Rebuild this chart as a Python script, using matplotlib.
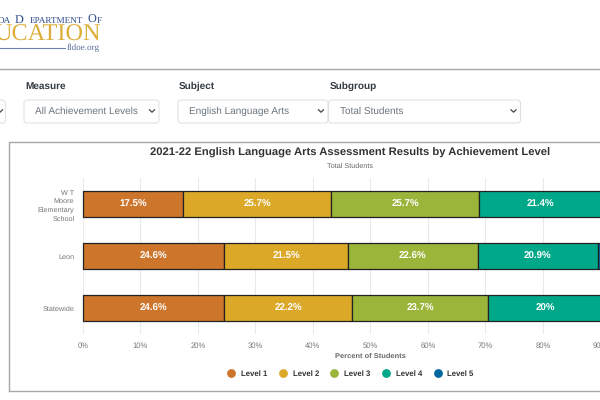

# Imports
import matplotlib
matplotlib.use("Agg")
import matplotlib.pyplot as plt
from matplotlib.lines import Line2D
from matplotlib.patches import FancyBboxPatch
import numpy as np

# Chart data
schoolNames = ["W T\nMoore\nElementary\nSchool", "Leon", "Statewide"]
levelNames = ["Level 1", "Level 2", "Level 3", "Level 4", "Level 5"]
level1Values = [17.5, 24.6, 24.6]
level2Values = [25.7, 21.5, 22.2]
level3Values = [25.7, 22.6, 23.7]
level4Values = [21.4, 20.9, 20.0]
level5Values = [9.7, 10.4, 9.5]
levelLabels = [
    ["17.5%", "24.6%", "24.6%"],
    ["25.7%", "21.5%", "22.2%"],
    ["25.7%", "22.6%", "23.7%"],
    ["21.4%", "20.9%", "20%"],
    ["9.7%", "10.4%", "9.5%"],
]
levelColors = ["#CC752B", "#DBA827", "#9BB53B", "#00A88A", "#00679E"]
xTicks = [0, 10, 20, 30, 40, 50, 60, 70, 80, 90, 100]

# Page controls: (label, selected text, left, width)
dropdownLabels = ["Measure", "Subject", "Subgroup"]
dropdownValues = ["All Achievement Levels", "English Language Arts", "Total Students"]
dropdownLefts = [24, 178, 328.5]
dropdownWidths = [135, 150, 192]

plt.rcParams["font.family"] = ["Liberation Sans", "DejaVu Sans"]
plt.rcParams["text.hinting"] = "no_hinting"

fig = plt.figure(figsize=(6, 4), dpi=100)

################################################################################
# Page furniture, drawn in pixel coordinates
################################################################################
page = fig.add_axes([0, 0, 1, 1])
page.set_xlim(0, 600)
page.set_ylim(400, 0)
page.axis("off")

# Logo, small caps built from two sizes on one baseline
logoBaseline = 23
logoBlue = "#2F4A8C"
page.text(11, logoBaseline, "DA", family="Liberation Serif", fontsize=6.6,
          color=logoBlue, ha="right", va="baseline")
page.text(15, logoBaseline, "D", family="Liberation Serif", fontsize=8.8,
          color=logoBlue, ha="left", va="baseline")
page.text(83, logoBaseline, "EPARTMENT", family="Liberation Serif", fontsize=6.6,
          color=logoBlue, ha="right", va="baseline")
page.text(88, logoBaseline, "O", family="Liberation Serif", fontsize=8.8,
          color=logoBlue, ha="left", va="baseline")
page.text(102, logoBaseline, "F", family="Liberation Serif", fontsize=6.6,
          color=logoBlue, ha="right", va="baseline")
page.text(101, 35, "UCATION", family="Liberation Serif", fontsize=17.5,
          color="#DDAE3A", ha="right", va="center")
page.plot([0, 65], [48, 48], color="#6F82B5", lw=0.8)
page.text(99.5, 48, "fldoe.org", family="Liberation Serif", fontsize=6.6,
          color="#5A6C9C", ha="right", va="center")

# Separator lines and the chart frame
page.plot([0, 600], [68.5, 68.5], color="#A8A8A8", lw=1)
page.plot([8.5, 8.5, 600], [390.5, 141.5, 141.5], color="#A8A8A8", lw=1)
page.plot([8.5, 600], [390.5, 390.5], color="#A8A8A8", lw=1)


def drawChevron(xCenter, yCenter):
    page.plot([xCenter - 2.5, xCenter, xCenter + 2.5],
              [yCenter - 1.2, yCenter + 1.2, yCenter - 1.2],
              color="#444444", lw=0.9)


# Left over dropdown cut off by the page edge
page.add_patch(FancyBboxPatch((-30, 100), 35.5, 23, boxstyle="round,pad=0,rounding_size=3",
                              fc="white", ec="#DEE2E6", lw=0.8))
drawChevron(0, 111)

for label, value, left, width in zip(dropdownLabels, dropdownValues, dropdownLefts, dropdownWidths):
    page.text(left + 1, 86.5, label, fontsize=7.2, fontweight="bold", color="#333A40",
              ha="left", va="center")
    page.add_patch(FancyBboxPatch((left, 100), width, 23, boxstyle="round,pad=0,rounding_size=3",
                                  fc="white", ec="#DEE2E6", lw=0.8))
    page.text(left + 11, 111, value, fontsize=7.2, color="#6C757D", ha="left", va="center")
    drawChevron(left + width - 7, 111)

################################################################################
# Stacked bar chart (the 100% end runs past the cropped right edge)
################################################################################
pxPerPercent = 5.75
axLeft = 82.8 / 600
axWidth = 100 * pxPerPercent / 600
axBottom = 1 - 334 / 400
axHeight = 156 / 400
axe = fig.add_axes([axLeft, axBottom, axWidth, axHeight], facecolor="none")

allValues = [level1Values, level2Values, level3Values, level4Values, level5Values]
yPositions = np.arange(len(schoolNames))
lefts = np.zeros(len(schoolNames))
for values, labels, color in zip(allValues, levelLabels, levelColors):
    bars = axe.barh(yPositions, values, left=lefts, height=0.5, color=color,
                    edgecolor="#222222", linewidth=0.9, zorder=3, clip_on=False)
    axe.bar_label(bars, labels=labels, label_type="center", color="white",
                  fontsize=7, fontweight="bold", zorder=4)
    lefts = lefts + np.array(values)

axe.set_xlim(0, 100)
axe.set_ylim(2.5, -0.5)
axe.set_xticks(xTicks)
axe.set_xticklabels([f"{tick}%" for tick in xTicks], fontsize=5.5, color="#777777")
axe.set_yticks(yPositions)
axe.set_yticklabels(schoolNames, fontsize=5.2, color="#777777", linespacing=1.43)
axe.tick_params(axis="x", length=0, pad=6)
axe.tick_params(axis="y", length=0, pad=6)
axe.grid(True, axis="x", color="#E6E9F0", lw=0.8, zorder=0)
for side in axe.spines:
    axe.spines[side].set_visible(False)

axe.set_xlabel("Percent of Students", fontsize=5.4, fontweight="bold", color="#666666", labelpad=2)

# Title and subtitle
page.text(350, 153, "2021-22 English Language Arts Assessment Results by Achievement Level",
          fontsize=8.1, fontweight="bold", color="#333333", ha="center", va="center")
page.text(350, 166.5, "Total Students", fontsize=5.2, color="#666666", ha="center", va="center")

# Legend
legendHandles = [Line2D([], [], linestyle="none", marker="o", markersize=5.3, color=color)
                 for color in levelColors]
legend = page.legend(legendHandles, levelNames, ncol=5, frameon=False, loc="center",
                     bbox_to_anchor=(348.5 / 600, 1 - 374 / 400),
                     handletextpad=0.25, columnspacing=1.0, labelcolor="#333333",
                     prop={"weight": "bold", "size": 5.6})

fig.savefig("out.png", dpi=100)
